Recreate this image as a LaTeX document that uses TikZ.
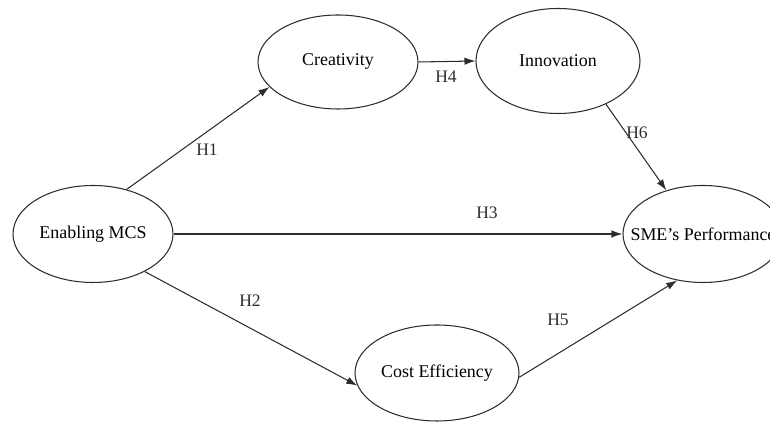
\documentclass[tikz,border=0pt]{standalone}
\usepackage{fontspec}
\setmainfont{Liberation Serif}
\usepackage{tikz}
\usetikzlibrary{arrows.meta, shapes.geometric}
\definecolor{linecol}{RGB}{45,45,45}

\begin{document}
\begin{tikzpicture}[x=1cm,y=1cm,
    construct/.style={ellipse, draw=linecol, line width=0.6pt,
                      inner sep=0pt, font=\fontsize{10.2}{12}\selectfont},
    hyp/.style={-{Latex[length=2.2mm,width=1.5mm]}, linecol, line width=0.6pt},
    hlabel/.style={font=\fontsize{10}{12}\selectfont, text=linecol}]

\useasboundingbox (0,0) rectangle (15.4,8.52);

% ── Constructs ───────────────────────────────────────────────────────────────
\node[construct, minimum width=3.2cm,  minimum height=1.94cm] (mcs)  at (1.86,3.84)  {Enabling MCS};
\node[construct, minimum width=3.2cm,  minimum height=1.88cm] (cre)  at (6.76,7.28)  {Creativity};
\node[construct, minimum width=3.28cm, minimum height=2.1cm]  (inn)  at (11.16,7.30) {Innovation};
\node[construct, minimum width=3.28cm, minimum height=1.92cm] (cost) at (8.74,1.06)  {Cost Efficiency};
\node[construct, minimum width=3.2cm,  minimum height=1.94cm] (sme)  at (14.06,3.84)
     {\makebox[0pt]{SME’s Performance}};

% ── Hypothesised paths ───────────────────────────────────────────────────────
\draw[hyp] (mcs.53)   -- (cre.200);
\draw[hyp] (mcs.east) -- (sme.west);
\draw[hyp] (mcs.-36)  -- (cost.189);
\draw[hyp] (cre.east) -- (inn.west);
\draw[hyp] (inn.-42)  -- (sme.130);
\draw[hyp] (cost.-3)  -- (sme.241);

% Path labels
\node[hlabel] (h1) at (4.14,5.52)  {H1};
\node[hlabel] (h2) at (5.00,2.50)  {H2};
\node[hlabel] (h3) at (9.74,4.26)  {H3};
\node[hlabel] (h4) at (8.92,6.98)  {H4};
\node[hlabel] (h5) at (11.16,2.12) {H5};
\node[hlabel] (h6) at (12.74,5.86) {H6};

\end{tikzpicture}
\end{document}
